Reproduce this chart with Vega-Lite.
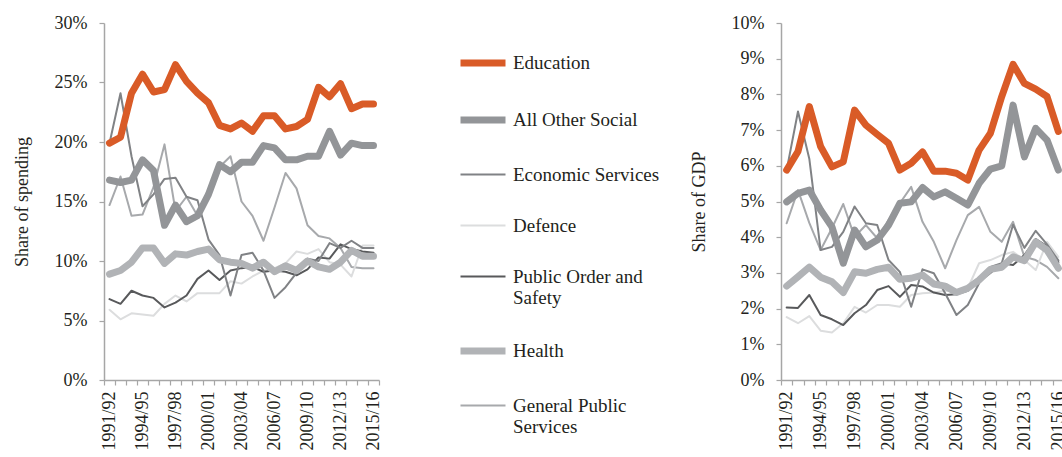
{
"$schema": "https://vega.github.io/schema/vega-lite/v6.json",
"padding": {"left": 13, "top": 14, "right": 0, "bottom": 0},
"config": {
 "font": "Liberation Serif",
 "view": {"stroke": null},
 "axis": {"labelFont": "Liberation Serif", "labelFontSize": 18, "labelColor": "#231f20", "titleFont": "Liberation Serif", "titleFontSize": 18, "titleFontWeight": "normal", "titleColor": "#231f20", "domainColor": "#a6a6a6", "tickColor": "#a6a6a6", "grid": false, "tickSize": 5, "domainWidth": 1.5, "tickWidth": 1.2}
},
"datasets": {"d": [
{"year":"1991/92","series":"General Public Services","spending":14.7,"gdp":4.39},
{"year":"1992/93","series":"General Public Services","spending":17.1,"gdp":5.32},
{"year":"1993/94","series":"General Public Services","spending":13.8,"gdp":4.4},
{"year":"1994/95","series":"General Public Services","spending":13.9,"gdp":3.64},
{"year":"1995/96","series":"General Public Services","spending":16.2,"gdp":4.25},
{"year":"1996/97","series":"General Public Services","spending":19.8,"gdp":4.93},
{"year":"1997/98","series":"General Public Services","spending":14.2,"gdp":4.01},
{"year":"1998/99","series":"General Public Services","spending":15.4,"gdp":4.34},
{"year":"1999/00","series":"General Public Services","spending":13.8,"gdp":3.97},
{"year":"2000/01","series":"General Public Services","spending":16.0,"gdp":4.48},
{"year":"2001/02","series":"General Public Services","spending":17.9,"gdp":4.95},
{"year":"2002/03","series":"General Public Services","spending":18.8,"gdp":5.41},
{"year":"2003/04","series":"General Public Services","spending":15.0,"gdp":4.43},
{"year":"2004/05","series":"General Public Services","spending":13.8,"gdp":3.87},
{"year":"2005/06","series":"General Public Services","spending":11.7,"gdp":3.13},
{"year":"2006/07","series":"General Public Services","spending":14.5,"gdp":3.92},
{"year":"2007/08","series":"General Public Services","spending":17.4,"gdp":4.62},
{"year":"2008/09","series":"General Public Services","spending":16.1,"gdp":4.85},
{"year":"2009/10","series":"General Public Services","spending":13.0,"gdp":4.15},
{"year":"2010/11","series":"General Public Services","spending":12.1,"gdp":3.87},
{"year":"2011/12","series":"General Public Services","spending":11.9,"gdp":4.43},
{"year":"2012/13","series":"General Public Services","spending":11.1,"gdp":3.45},
{"year":"2013/14","series":"General Public Services","spending":9.5,"gdp":3.36},
{"year":"2014/15","series":"General Public Services","spending":9.4,"gdp":3.17},
{"year":"2015/16","series":"General Public Services","spending":9.4,"gdp":2.85},
{"year":"1991/92","series":"Defence","spending":5.9,"gdp":1.76},
{"year":"1992/93","series":"Defence","spending":5.1,"gdp":1.59},
{"year":"1993/94","series":"Defence","spending":5.6,"gdp":1.79},
{"year":"1994/95","series":"Defence","spending":5.5,"gdp":1.38},
{"year":"1995/96","series":"Defence","spending":5.4,"gdp":1.33},
{"year":"1996/97","series":"Defence","spending":6.4,"gdp":1.59},
{"year":"1997/98","series":"Defence","spending":7.1,"gdp":2.05},
{"year":"1998/99","series":"Defence","spending":6.6,"gdp":1.89},
{"year":"1999/00","series":"Defence","spending":7.3,"gdp":2.1},
{"year":"2000/01","series":"Defence","spending":7.3,"gdp":2.1},
{"year":"2001/02","series":"Defence","spending":7.3,"gdp":2.05},
{"year":"2002/03","series":"Defence","spending":8.3,"gdp":2.38},
{"year":"2003/04","series":"Defence","spending":8.1,"gdp":2.43},
{"year":"2004/05","series":"Defence","spending":8.7,"gdp":2.45},
{"year":"2005/06","series":"Defence","spending":9.2,"gdp":2.5},
{"year":"2006/07","series":"Defence","spending":9.4,"gdp":2.48},
{"year":"2007/08","series":"Defence","spending":9.8,"gdp":2.57},
{"year":"2008/09","series":"Defence","spending":10.8,"gdp":3.27},
{"year":"2009/10","series":"Defence","spending":10.6,"gdp":3.36},
{"year":"2010/11","series":"Defence","spending":11.0,"gdp":3.5},
{"year":"2011/12","series":"Defence","spending":9.9,"gdp":3.59},
{"year":"2012/13","series":"Defence","spending":9.7,"gdp":3.36},
{"year":"2013/14","series":"Defence","spending":8.7,"gdp":3.08},
{"year":"2014/15","series":"Defence","spending":11.3,"gdp":3.87},
{"year":"2015/16","series":"Defence","spending":11.3,"gdp":3.45},
{"year":"1991/92","series":"Public Order and Safety","spending":6.8,"gdp":2.03},
{"year":"1992/93","series":"Public Order and Safety","spending":6.4,"gdp":2.02},
{"year":"1993/94","series":"Public Order and Safety","spending":7.5,"gdp":2.38},
{"year":"1994/95","series":"Public Order and Safety","spending":7.1,"gdp":1.82},
{"year":"1995/96","series":"Public Order and Safety","spending":6.9,"gdp":1.7},
{"year":"1996/97","series":"Public Order and Safety","spending":6.1,"gdp":1.54},
{"year":"1997/98","series":"Public Order and Safety","spending":6.5,"gdp":1.87},
{"year":"1998/99","series":"Public Order and Safety","spending":7.1,"gdp":2.1},
{"year":"1999/00","series":"Public Order and Safety","spending":8.5,"gdp":2.52},
{"year":"2000/01","series":"Public Order and Safety","spending":9.2,"gdp":2.63},
{"year":"2001/02","series":"Public Order and Safety","spending":8.4,"gdp":2.33},
{"year":"2002/03","series":"Public Order and Safety","spending":9.2,"gdp":2.66},
{"year":"2003/04","series":"Public Order and Safety","spending":9.4,"gdp":2.62},
{"year":"2004/05","series":"Public Order and Safety","spending":9.5,"gdp":2.45},
{"year":"2005/06","series":"Public Order and Safety","spending":9.1,"gdp":2.38},
{"year":"2006/07","series":"Public Order and Safety","spending":9.2,"gdp":2.4},
{"year":"2007/08","series":"Public Order and Safety","spending":9.1,"gdp":2.5},
{"year":"2008/09","series":"Public Order and Safety","spending":8.8,"gdp":2.75},
{"year":"2009/10","series":"Public Order and Safety","spending":9.3,"gdp":3.0},
{"year":"2010/11","series":"Public Order and Safety","spending":10.3,"gdp":3.27},
{"year":"2011/12","series":"Public Order and Safety","spending":10.2,"gdp":3.22},
{"year":"2012/13","series":"Public Order and Safety","spending":11.4,"gdp":3.5},
{"year":"2013/14","series":"Public Order and Safety","spending":11.0,"gdp":3.95},
{"year":"2014/15","series":"Public Order and Safety","spending":10.8,"gdp":3.75},
{"year":"2015/16","series":"Public Order and Safety","spending":10.7,"gdp":3.3},
{"year":"1991/92","series":"Economic Services","spending":19.9,"gdp":5.88},
{"year":"1992/93","series":"Economic Services","spending":24.1,"gdp":7.52},
{"year":"1993/94","series":"Economic Services","spending":18.8,"gdp":6.2},
{"year":"1994/95","series":"Economic Services","spending":14.6,"gdp":3.64},
{"year":"1995/96","series":"Economic Services","spending":15.6,"gdp":3.73},
{"year":"1996/97","series":"Economic Services","spending":16.9,"gdp":4.15},
{"year":"1997/98","series":"Economic Services","spending":17.0,"gdp":4.86},
{"year":"1998/99","series":"Economic Services","spending":15.4,"gdp":4.39},
{"year":"1999/00","series":"Economic Services","spending":15.1,"gdp":4.34},
{"year":"2000/01","series":"Economic Services","spending":11.8,"gdp":3.36},
{"year":"2001/02","series":"Economic Services","spending":10.5,"gdp":3.03},
{"year":"2002/03","series":"Economic Services","spending":7.1,"gdp":2.05},
{"year":"2003/04","series":"Economic Services","spending":10.5,"gdp":3.1},
{"year":"2004/05","series":"Economic Services","spending":10.7,"gdp":2.99},
{"year":"2005/06","series":"Economic Services","spending":9.2,"gdp":2.43},
{"year":"2006/07","series":"Economic Services","spending":6.9,"gdp":1.82},
{"year":"2007/08","series":"Economic Services","spending":7.8,"gdp":2.1},
{"year":"2008/09","series":"Economic Services","spending":9.0,"gdp":2.71},
{"year":"2009/10","series":"Economic Services","spending":10.2,"gdp":3.17},
{"year":"2010/11","series":"Economic Services","spending":10.0,"gdp":3.27},
{"year":"2011/12","series":"Economic Services","spending":11.5,"gdp":4.35},
{"year":"2012/13","series":"Economic Services","spending":11.1,"gdp":3.7},
{"year":"2013/14","series":"Economic Services","spending":11.7,"gdp":4.18},
{"year":"2014/15","series":"Economic Services","spending":11.1,"gdp":3.8},
{"year":"2015/16","series":"Economic Services","spending":11.1,"gdp":3.35},
{"year":"1991/92","series":"Health","spending":8.9,"gdp":2.63},
{"year":"1992/93","series":"Health","spending":9.2,"gdp":2.89},
{"year":"1993/94","series":"Health","spending":9.9,"gdp":3.16},
{"year":"1994/95","series":"Health","spending":11.1,"gdp":2.88},
{"year":"1995/96","series":"Health","spending":11.1,"gdp":2.75},
{"year":"1996/97","series":"Health","spending":9.8,"gdp":2.45},
{"year":"1997/98","series":"Health","spending":10.6,"gdp":3.03},
{"year":"1998/99","series":"Health","spending":10.5,"gdp":2.99},
{"year":"1999/00","series":"Health","spending":10.8,"gdp":3.1},
{"year":"2000/01","series":"Health","spending":11.0,"gdp":3.16},
{"year":"2001/02","series":"Health","spending":10.1,"gdp":2.82},
{"year":"2002/03","series":"Health","spending":9.9,"gdp":2.85},
{"year":"2003/04","series":"Health","spending":9.8,"gdp":2.94},
{"year":"2004/05","series":"Health","spending":9.4,"gdp":2.69},
{"year":"2005/06","series":"Health","spending":9.9,"gdp":2.63},
{"year":"2006/07","series":"Health","spending":9.1,"gdp":2.45},
{"year":"2007/08","series":"Health","spending":9.6,"gdp":2.57},
{"year":"2008/09","series":"Health","spending":9.2,"gdp":2.8},
{"year":"2009/10","series":"Health","spending":10.0,"gdp":3.1},
{"year":"2010/11","series":"Health","spending":9.5,"gdp":3.16},
{"year":"2011/12","series":"Health","spending":9.3,"gdp":3.45},
{"year":"2012/13","series":"Health","spending":9.9,"gdp":3.34},
{"year":"2013/14","series":"Health","spending":10.9,"gdp":3.87},
{"year":"2014/15","series":"Health","spending":10.4,"gdp":3.64},
{"year":"2015/16","series":"Health","spending":10.4,"gdp":3.13},
{"year":"1991/92","series":"All Other Social","spending":16.8,"gdp":4.99},
{"year":"1992/93","series":"All Other Social","spending":16.6,"gdp":5.23},
{"year":"1993/94","series":"All Other Social","spending":16.8,"gdp":5.32},
{"year":"1994/95","series":"All Other Social","spending":18.5,"gdp":4.76},
{"year":"1995/96","series":"All Other Social","spending":17.6,"gdp":4.29},
{"year":"1996/97","series":"All Other Social","spending":13.0,"gdp":3.27},
{"year":"1997/98","series":"All Other Social","spending":14.7,"gdp":4.2},
{"year":"1998/99","series":"All Other Social","spending":13.3,"gdp":3.73},
{"year":"1999/00","series":"All Other Social","spending":13.8,"gdp":3.92},
{"year":"2000/01","series":"All Other Social","spending":15.6,"gdp":4.34},
{"year":"2001/02","series":"All Other Social","spending":18.1,"gdp":4.95},
{"year":"2002/03","series":"All Other Social","spending":17.5,"gdp":4.99},
{"year":"2003/04","series":"All Other Social","spending":18.3,"gdp":5.39},
{"year":"2004/05","series":"All Other Social","spending":18.3,"gdp":5.13},
{"year":"2005/06","series":"All Other Social","spending":19.7,"gdp":5.27},
{"year":"2006/07","series":"All Other Social","spending":19.5,"gdp":5.09},
{"year":"2007/08","series":"All Other Social","spending":18.5,"gdp":4.9},
{"year":"2008/09","series":"All Other Social","spending":18.5,"gdp":5.51},
{"year":"2009/10","series":"All Other Social","spending":18.8,"gdp":5.91},
{"year":"2010/11","series":"All Other Social","spending":18.8,"gdp":6.0},
{"year":"2011/12","series":"All Other Social","spending":20.9,"gdp":7.7},
{"year":"2012/13","series":"All Other Social","spending":18.9,"gdp":6.25},
{"year":"2013/14","series":"All Other Social","spending":19.9,"gdp":7.05},
{"year":"2014/15","series":"All Other Social","spending":19.7,"gdp":6.72},
{"year":"2015/16","series":"All Other Social","spending":19.7,"gdp":5.88},
{"year":"1991/92","series":"Education","spending":19.9,"gdp":5.88},
{"year":"1992/93","series":"Education","spending":20.4,"gdp":6.4},
{"year":"1993/94","series":"Education","spending":24.1,"gdp":7.66},
{"year":"1994/95","series":"Education","spending":25.7,"gdp":6.54},
{"year":"1995/96","series":"Education","spending":24.2,"gdp":5.97},
{"year":"1996/97","series":"Education","spending":24.4,"gdp":6.11},
{"year":"1997/98","series":"Education","spending":26.5,"gdp":7.56},
{"year":"1998/99","series":"Education","spending":25.1,"gdp":7.14},
{"year":"1999/00","series":"Education","spending":24.1,"gdp":6.88},
{"year":"2000/01","series":"Education","spending":23.3,"gdp":6.63},
{"year":"2001/02","series":"Education","spending":21.4,"gdp":5.88},
{"year":"2002/03","series":"Education","spending":21.1,"gdp":6.07},
{"year":"2003/04","series":"Education","spending":21.6,"gdp":6.39},
{"year":"2004/05","series":"Education","spending":20.9,"gdp":5.85},
{"year":"2005/06","series":"Education","spending":22.2,"gdp":5.85},
{"year":"2006/07","series":"Education","spending":22.2,"gdp":5.79},
{"year":"2007/08","series":"Education","spending":21.1,"gdp":5.6},
{"year":"2008/09","series":"Education","spending":21.3,"gdp":6.44},
{"year":"2009/10","series":"Education","spending":21.9,"gdp":6.91},
{"year":"2010/11","series":"Education","spending":24.6,"gdp":7.94},
{"year":"2011/12","series":"Education","spending":23.8,"gdp":8.84},
{"year":"2012/13","series":"Education","spending":24.9,"gdp":8.31},
{"year":"2013/14","series":"Education","spending":22.8,"gdp":8.15},
{"year":"2014/15","series":"Education","spending":23.2,"gdp":7.94},
{"year":"2015/16","series":"Education","spending":23.2,"gdp":6.96}
]},
"data": {"name": "d"},
"resolve": {"legend": {"color": "independent", "strokeWidth": "independent"}},
"spacing": 16,
"hconcat": [
 {
  "width": 275, "height": 357,
  "mark": {"type": "line", "strokeCap": "round", "strokeJoin": "round"},
  "encoding": {
   "x": {"field": "year", "type": "ordinal", "scale": {"type": "band", "paddingInner": 0, "paddingOuter": 0}, "bandPosition": 0.5,
     "axis": {"title": null, "labelAngle": -90, "labelOverlap": false, "tickBand": "extent", "labelPadding": 6,
       "labelExpr": "indexof(['1991/92','1994/95','1997/98','2000/01','2003/04','2006/07','2009/10','2012/13','2015/16'], datum.value) >= 0 ? datum.label : ''"}},
   "y": {"field": "spending", "type": "quantitative", "scale": {"domain": [0, 30]},
     "axis": {"title": "Share of spending", "values": [0, 5, 10, 15, 20, 25, 30], "labelExpr": "datum.value + '%'", "labelPadding": 12, "titlePadding": 23}},
   "color": {"field": "series", "type": "nominal",
     "scale": {"domain": ["Education", "All Other Social", "Economic Services", "Defence", "Public Order and Safety", "Health", "General Public Services"],
       "range": ["#d95b27", "#939598", "#808285", "#dcddde", "#58595b", "#b1b3b6", "#a7a9ac"]},
     "legend": {"title": null, "orient": "right", "offset": 64, "padding": 14, "symbolType": "stroke", "symbolSize": 2025, "labelFontSize": 19, "labelFont": "Liberation Serif", "labelColor": "#231f20", "labelLimit": 300, "rowPadding": 17, "labelOffset": 4,
       "labelExpr": "datum.label == 'Public Order and Safety' ? ['Public Order and', 'Safety'] : datum.label == 'General Public Services' ? ['General Public', 'Services'] : datum.label"}},
   "strokeWidth": {"field": "series", "type": "nominal",
     "scale": {"type": "ordinal", "domain": ["Education", "All Other Social", "Economic Services", "Defence", "Public Order and Safety", "Health", "General Public Services"],
       "range": [7, 7, 2, 2, 2, 7, 2]},
     "legend": {"title": null, "orient": "right", "offset": 64, "padding": 14, "symbolType": "stroke", "symbolSize": 2025, "labelFontSize": 19, "labelFont": "Liberation Serif", "labelColor": "#231f20", "labelLimit": 300, "rowPadding": 17, "labelOffset": 4,
       "labelExpr": "datum.label == 'Public Order and Safety' ? ['Public Order and', 'Safety'] : datum.label == 'General Public Services' ? ['General Public', 'Services'] : datum.label"}}
  }
 },
 {
  "width": 283, "height": 357,
  "mark": {"type": "line", "strokeCap": "round", "strokeJoin": "round"},
  "encoding": {
   "x": {"field": "year", "type": "ordinal", "scale": {"type": "band", "paddingInner": 0, "paddingOuter": 0}, "bandPosition": 0.5,
     "axis": {"title": null, "labelAngle": -90, "labelOverlap": false, "tickBand": "extent", "labelPadding": 6,
       "labelExpr": "indexof(['1991/92','1994/95','1997/98','2000/01','2003/04','2006/07','2009/10','2012/13','2015/16'], datum.value) >= 0 ? datum.label : ''"}},
   "y": {"field": "gdp", "type": "quantitative", "scale": {"domain": [0, 10]},
     "axis": {"title": "Share of GDP", "values": [0, 1, 2, 3, 4, 5, 6, 7, 8, 9, 10], "labelExpr": "datum.value + '%'", "labelPadding": 12, "titlePadding": 23}},
   "color": {"field": "series", "type": "nominal",
     "scale": {"domain": ["Education", "All Other Social", "Economic Services", "Defence", "Public Order and Safety", "Health", "General Public Services"],
       "range": ["#d95b27", "#939598", "#808285", "#dcddde", "#58595b", "#b1b3b6", "#a7a9ac"]},
     "legend": null},
   "strokeWidth": {"field": "series", "type": "nominal",
     "scale": {"type": "ordinal", "domain": ["Education", "All Other Social", "Economic Services", "Defence", "Public Order and Safety", "Health", "General Public Services"],
       "range": [7, 7, 2, 2, 2, 7, 2]},
     "legend": null}
  }
 }
]
}
